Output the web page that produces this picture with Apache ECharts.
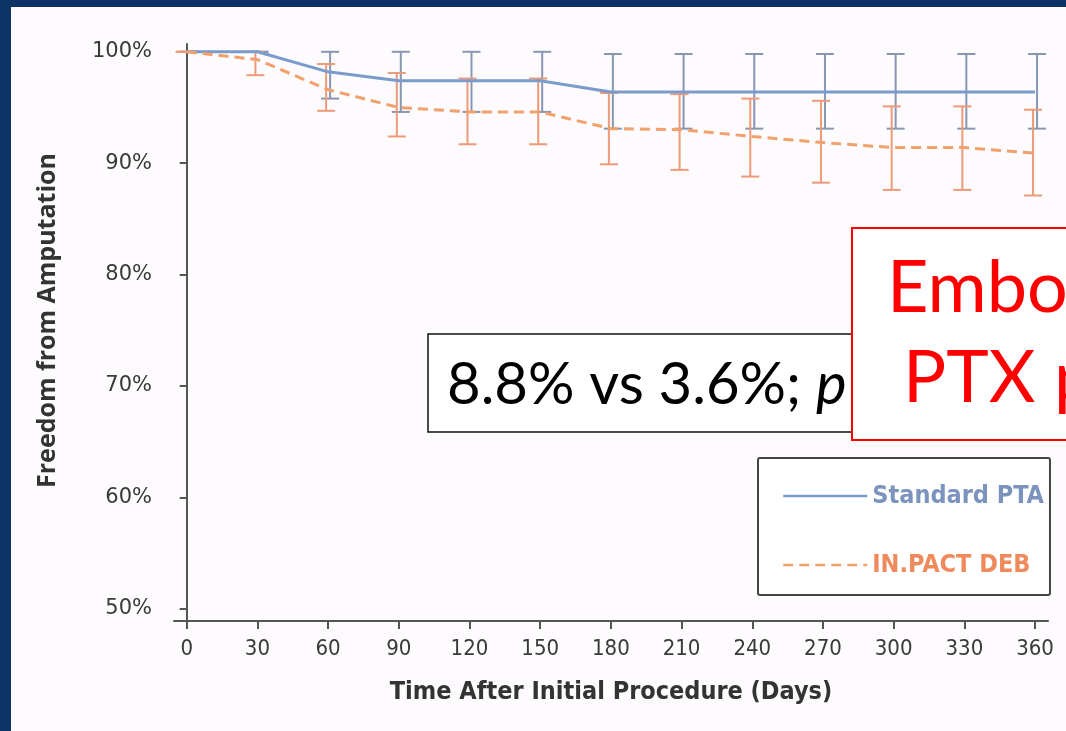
<!DOCTYPE html>
<html>
<head>
<meta charset="utf-8">
<style>
html,body{margin:0;padding:0;background:#0b3363;}
#chart{width:1066px;height:731px;}
</style>
<script src="https://cdn.jsdelivr.net/npm/echarts@6/dist/echarts.min.js"></script>
</head>
<body>
<div id="chart"></div>
<script>
// ---- data ----
const days = [0, 30, 60, 90, 120, 150, 180, 210, 240, 270, 300, 330, 360];
const yTicks = [50, 60, 70, 80, 90, 100];
const ptaFreedom = [100, 100, 98.2, 97.4, 97.4, 97.4, 96.4, 96.4, 96.4, 96.4, 96.4, 96.4, 96.4];
const ptaUpper   = [100, 100, 100, 100, 100, 100, 99.8, 99.8, 99.8, 99.8, 99.8, 99.8, 99.8];
const ptaLower   = [100, 100, 95.8, 94.6, 94.6, 94.6, 93.1, 93.1, 93.1, 93.1, 93.1, 93.1, 93.1];
const debFreedom = [100, 99.3, 96.6, 95.0, 94.6, 94.6, 93.1, 93.0, 92.4, 91.85, 91.4, 91.4, 90.9];
const debUpper   = [100, 100, 98.9, 98.1, 97.6, 97.6, 96.3, 96.2, 95.8, 95.6, 95.1, 95.1, 94.8];
const debLower   = [100, 97.9, 94.7, 92.4, 91.7, 91.7, 89.9, 89.4, 88.8, 88.25, 87.6, 87.6, 87.1];
const seriesNames = ['Standard PTA', 'IN.PACT DEB'];

const blue = '#7a9bcc', blueErr = '#8797b2';
const orange = '#f2a06c', orangeErr = '#ee9a78';

function errRenderer(color, dx) {
  return function (params, api) {
    const x = api.value(0), lo = api.value(1), hi = api.value(2);
    const pHi = api.coord([x, hi]);
    const pLo = api.coord([x, lo]);
    const cx = pHi[0] + dx, h = 9;
    const st = { stroke: color, lineWidth: 2 };
    return {
      type: 'group',
      children: [
        { type: 'line', shape: { x1: cx, y1: pHi[1], x2: cx, y2: pLo[1] }, style: st },
        { type: 'line', shape: { x1: cx - h, y1: pHi[1], x2: cx + h, y2: pHi[1] }, style: st },
        { type: 'line', shape: { x1: cx - h, y1: pLo[1], x2: cx + h, y2: pLo[1] }, style: st }
      ]
    };
  };
}

const chart = echarts.init(document.getElementById('chart'), null, { renderer: 'canvas' });
const axisTextColor = '#3a3a3a';
chart.setOption({
  animation: false,
  backgroundColor: '#0b3363',
  grid: { left: 174, right: 18, top: 44, bottom: 110 },
  xAxis: {
    type: 'value', min: -5.4, max: 365.5,
    name: 'Time After Initial Procedure (Days)',
    nameLocation: 'middle', nameGap: 59,
    nameTextStyle: { fontFamily: 'DejaVu Sans Condensed', fontSize: 25, fontWeight: 'bold', color: '#333' },
    axisLine: { lineStyle: { color: '#555', width: 2 } },
    axisTick: { customValues: days, length: 8, lineStyle: { color: '#555', width: 2 } },
    axisLabel: { customValues: days, margin: 17, fontFamily: 'DejaVu Sans Condensed', fontSize: 22, color: axisTextColor },
    splitLine: { show: false }
  },
  yAxis: {
    type: 'value', min: 48.9, max: 100.7,
    name: 'Freedom from Amputation',
    nameLocation: 'middle', nameGap: 114, nameRotate: 90,
    nameTextStyle: { fontFamily: 'Open Sans', fontSize: 25, fontWeight: 'bold', color: '#333', padding: [0, 0, 0, 24] },
    axisLine: { show: true, lineStyle: { color: '#555', width: 2 } },
    axisTick: { show: true, customValues: yTicks, length: 7, lineStyle: { color: '#555', width: 2 } },
    axisLabel: { customValues: yTicks, margin: 22, fontFamily: 'DejaVu Sans', fontSize: 21, color: axisTextColor, formatter: v => v + '%' },
    splitLine: { show: false }
  },
  legend: {
    orient: 'vertical', left: 758, top: 458,
    padding: [25, 6, 17, 24], itemGap: 43,
    itemWidth: 84, itemHeight: 14,
    borderColor: '#444', borderWidth: 2, borderRadius: 2, backgroundColor: '#fff',
    itemStyle: { opacity: 0 },
    lineStyle: { width: 2.5 },
    textStyle: { fontFamily: 'DejaVu Sans Condensed', fontWeight: 'bold', fontSize: 25, lineHeight: 26 },
    data: [
      { name: seriesNames[0], textStyle: { color: '#7b93bd' } },
      { name: seriesNames[1], textStyle: { color: '#ef8a5c' } }
    ]
  },
  series: [
    {
      name: seriesNames[0] + ' CI', type: 'custom', z: 3,
      renderItem: errRenderer(blueErr, 2),
      encode: { x: 0, y: [1, 2] },
      data: days.map((d, i) => [d, ptaLower[i], ptaUpper[i]])
    },
    {
      name: seriesNames[1] + ' CI', type: 'custom', z: 3,
      renderItem: errRenderer(orangeErr, -2),
      encode: { x: 0, y: [1, 2] },
      data: days.map((d, i) => [d, debLower[i], debUpper[i]])
    },
    {
      name: seriesNames[0], type: 'line', symbol: 'none', color: blue, z: 4,
      lineStyle: { color: blue, width: 3 },
      data: days.map((d, i) => [d, ptaFreedom[i]])
    },
    {
      name: seriesNames[1], type: 'line', symbol: 'none', color: orange, z: 4,
      lineStyle: { color: orange, width: 3, type: [10, 6] },
      data: days.map((d, i) => [d, debFreedom[i]])
    }
  ],
  graphic: [
    { type: 'rect', z: -100, silent: true, shape: { x: 11, y: 7, width: 1060, height: 730 }, style: { fill: '#fdfbfd' } },
    { type: 'rect', z: 100, shape: { x: 428, y: 334, width: 440, height: 98 }, style: { fill: '#ffffff', stroke: '#111', lineWidth: 1.5 } },
    { type: 'text', z: 101, x: 447, y: 385, style: {
        text: '{n|8.8% vs 3.6%; }{i|p}{n|=}',
        verticalAlign: 'middle', align: 'left',
        rich: {
          n: { fontFamily: 'Lato', fontSize: 58, fill: '#000' },
          i: { fontFamily: 'Lato', fontSize: 58, fontStyle: 'italic', fill: '#000' }
        }
    } },
    { type: 'rect', z: 102, shape: { x: 852, y: 228, width: 240, height: 212 }, style: { fill: '#ffffff', stroke: '#ff0000', lineWidth: 2 } },
    { type: 'text', z: 103, x: 887, y: 289, style: { text: 'Embo', fontFamily: 'Lato', fontSize: 72, fill: '#ff0000', verticalAlign: 'middle' } },
    { type: 'text', z: 103, x: 903, y: 379, style: { text: 'PTX p', fontFamily: 'Lato', fontSize: 72, fill: '#ff0000', verticalAlign: 'middle' } }
  ]
});
</script>
</body>
</html>
